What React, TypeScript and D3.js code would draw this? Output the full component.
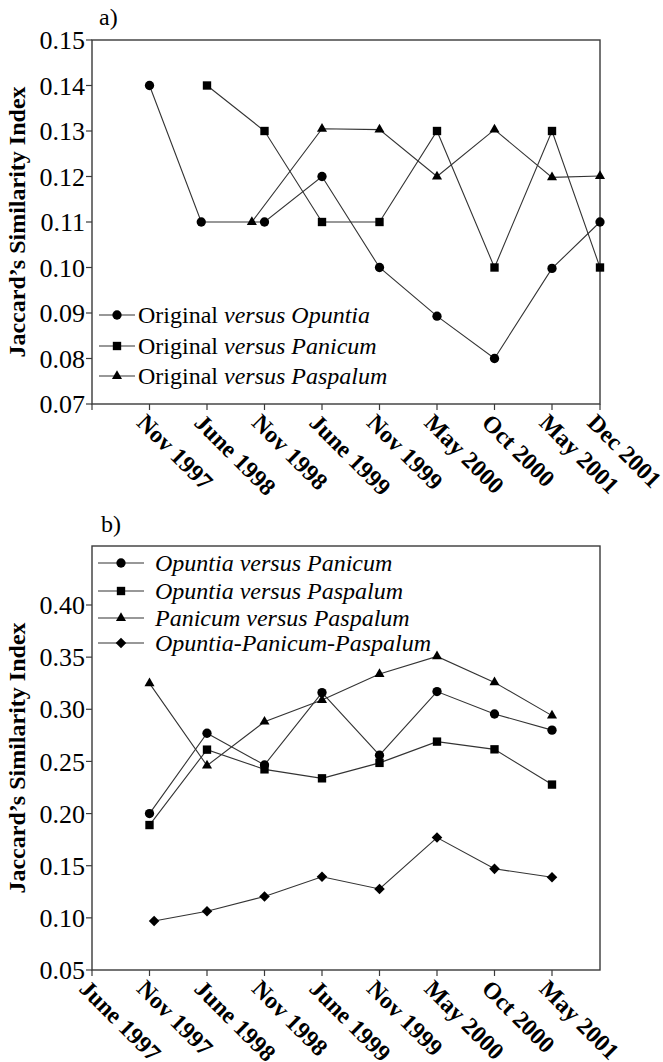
import React from "react";
import * as d3 from "d3";

// ---------- data ----------
const labelsA = ["Nov 1997", "June 1998", "Nov 1998", "June 1999", "Nov 1999", "May 2000", "Oct 2000", "May 2001", "Dec 2001"];
const labelSlotsA = [1, 2, 3, 4, 5, 6, 7, 8, 9];
const labelsB = ["June 1997", "Nov 1997", "June 1998", "Nov 1998", "June 1999", "Nov 1999", "May 2000", "Oct 2000", "May 2001"];
const labelSlotsB = [0, 1, 2, 3, 4, 5, 6, 7, 8];
const tickSlotsA = [0, 1, 2, 3, 4, 5, 6, 7, 8, 9];
const tickSlotsB = [0, 1, 2, 3, 4, 5, 6, 7, 8];
const yTicksA = [0.07, 0.08, 0.09, 0.10, 0.11, 0.12, 0.13, 0.14, 0.15];
const yTicksB = [0.05, 0.10, 0.15, 0.20, 0.25, 0.30, 0.35, 0.40];

// panel a (x = category slot)
const opuntiaAx = [1, 1.9, 3, 4, 5, 6, 7, 8, 9];
const opuntiaAy = [0.140, 0.110, 0.110, 0.120, 0.100, 0.0893, 0.080, 0.0998, 0.110];
const panicumAx = [2, 3, 4, 5, 6, 7, 8, 9];
const panicumAy = [0.140, 0.130, 0.110, 0.110, 0.130, 0.100, 0.130, 0.100];
const paspalumAx = [2.78, 4, 5, 6, 7, 8, 9];
const paspalumAy = [0.110, 0.1305, 0.1303, 0.120, 0.1303, 0.1198, 0.1201];

// panel b
const slotsB = [1, 2, 3, 4, 5, 6, 7, 8];
const opPanB = [0.200, 0.277, 0.2466, 0.316, 0.256, 0.317, 0.2955, 0.280];
const opPasB = [0.189, 0.2613, 0.2424, 0.2338, 0.2486, 0.269, 0.2616, 0.2278];
const panPasB = [0.3248, 0.246, 0.2881, 0.3089, 0.3338, 0.3507, 0.3258, 0.2939];
const tripleBx = [1.08, 2, 3, 4, 5, 6, 7, 8];
const tripleB = [0.097, 0.1064, 0.1205, 0.1394, 0.1277, 0.1770, 0.1470, 0.1390];

// ---------- layout ----------
const W = 663, H = 1062;
const LEFT = 92, RIGHT = 600;
const A = { top: 40, bottom: 404 };
const B = { top: 546, bottom: 970 };
const FONT = "Liberation Serif";
const LINE = "#333";
const AXIS = "#3a3a3a";

const xScale = d3.scaleLinear().domain([0, 8]).range([LEFT, 552]);
const xPos = (s: number) => Math.min(xScale(s), RIGHT);
const yA = d3.scaleLinear().domain([0.07, 0.15]).range([A.bottom, A.top]);
const yB = d3.scaleLinear().domain([0.05, 0.40]).range([B.bottom, 605]);

type Shape = "circle" | "square" | "triangle" | "diamond";
const symbolPath = (s: Shape) => {
  if (s === "circle") return d3.symbol(d3.symbolCircle, 68)()!;
  if (s === "square") return d3.symbol(d3.symbolSquare, 70)()!;
  if (s === "triangle") return d3.symbol(d3.symbolTriangle, 44)()!;
  return d3.symbol(d3.symbolSquare, 56)()!;
};
const Marker = ({ x, y, shape }: { x: number; y: number; shape: Shape }) => (
  <path
    d={symbolPath(shape)}
    transform={`translate(${x},${y})${shape === "diamond" ? " rotate(45)" : ""}`}
    fill="#000"
  />
);

function Series({ xs, ys, y, shape }: { xs: number[]; ys: number[]; y: d3.ScaleLinear<number, number>; shape: Shape }) {
  const pts: [number, number][] = xs.map((s, i) => [xPos(s), y(ys[i])]);
  const line = d3.line();
  return (
    <g>
      <path d={line(pts)!} fill="none" stroke={LINE} strokeWidth={1.1} />
      {pts.map((p, i) => (
        <Marker key={i} x={p[0]} y={p[1]} shape={shape} />
      ))}
    </g>
  );
}

function Frame({ top, bottom, y, yTicks, tickSlots, labels, labelSlots, fmt }: any) {
  return (
    <g>
      <rect x={LEFT} y={top} width={RIGHT - LEFT} height={bottom - top} fill="none" stroke={AXIS} strokeWidth={1.4} />
      {yTicks.map((t: number) => (
        <g key={t}>
          <line x1={LEFT - 6} x2={LEFT} y1={y(t)} y2={y(t)} stroke={AXIS} strokeWidth={1.2} />
          <text x={LEFT - 7} y={y(t)} dy="0.35em" textAnchor="end" fontSize={26} fontFamily={FONT} fill="#000">
            {fmt(t)}
          </text>
        </g>
      ))}
      {tickSlots.map((s: number) => (
        <line key={s} x1={xPos(s)} x2={xPos(s)} y1={bottom} y2={bottom + 6} stroke={AXIS} strokeWidth={1.2} />
      ))}
      {labels.map((l: string, i: number) => (
        <text
          key={l + i}
          transform={`translate(${xPos(labelSlots[i]) - 14},${bottom + 20}) rotate(45)`}
          fontSize={24}
          fontWeight="bold"
          fontFamily={FONT}
          fill="#000"
        >
          {l}
        </text>
      ))}
      <text
        transform={`translate(25,${(top + bottom) / 2}) rotate(-90)`}
        textAnchor="middle"
        fontSize={24}
        fontWeight="bold"
        fontFamily={FONT}
        fill="#000"
      >
        Jaccard’s Similarity Index
      </text>
    </g>
  );
}

const LegendRow = ({ y, x1, x2, tx, shape, children }: any) => (
  <g>
    <line x1={x1} x2={x2} y1={y} y2={y} stroke={LINE} strokeWidth={1.1} />
    <Marker x={(x1 + x2) / 2} y={y} shape={shape} />
    <text x={tx} y={y} dy="0.35em" fontSize={24} fontFamily={FONT} fill="#000">
      {children}
    </text>
  </g>
);

export default function App() {
  const fmt2 = d3.format(".2f");
  return (
    <svg width={W} height={H} style={{ position: "absolute", left: 0, top: 0, background: "#fff" }}>
      <rect width={W} height={H} fill="#fff" />
      {/* Panel a */}
      <text x={99} y={25} fontSize={24} fontFamily={FONT}>a)</text>
      <Frame top={A.top} bottom={A.bottom} y={yA} yTicks={yTicksA} tickSlots={tickSlotsA} labels={labelsA} labelSlots={labelSlotsA} fmt={fmt2} />
      <Series xs={opuntiaAx} ys={opuntiaAy} y={yA} shape="circle" />
      <Series xs={panicumAx} ys={panicumAy} y={yA} shape="square" />
      <Series xs={paspalumAx} ys={paspalumAy} y={yA} shape="triangle" />
      <LegendRow y={315} x1={99} x2={135} tx={138} shape="circle">
        Original <tspan fontStyle="italic">versus Opuntia</tspan>
      </LegendRow>
      <LegendRow y={346} x1={99} x2={135} tx={138} shape="square">
        Original <tspan fontStyle="italic">versus Panicum</tspan>
      </LegendRow>
      <LegendRow y={376} x1={99} x2={135} tx={138} shape="triangle">
        Original <tspan fontStyle="italic">versus Paspalum</tspan>
      </LegendRow>

      {/* Panel b */}
      <text x={101} y={532} fontSize={24} fontFamily={FONT}>b)</text>
      <Frame top={B.top} bottom={B.bottom} y={yB} yTicks={yTicksB} tickSlots={tickSlotsB} labels={labelsB} labelSlots={labelSlotsB} fmt={fmt2} />
      <Series xs={slotsB} ys={opPanB} y={yB} shape="circle" />
      <Series xs={slotsB} ys={opPasB} y={yB} shape="square" />
      <Series xs={slotsB} ys={panPasB} y={yB} shape="triangle" />
      <Series xs={tripleBx} ys={tripleB} y={yB} shape="diamond" />
      <LegendRow y={563} x1={98} x2={144} tx={155} shape="circle">
        <tspan fontStyle="italic">Opuntia versus Panicum</tspan>
      </LegendRow>
      <LegendRow y={591} x1={98} x2={144} tx={155} shape="square">
        <tspan fontStyle="italic">Opuntia versus Paspalum</tspan>
      </LegendRow>
      <LegendRow y={618} x1={98} x2={144} tx={155} shape="triangle">
        <tspan fontStyle="italic">Panicum versus Paspalum</tspan>
      </LegendRow>
      <LegendRow y={643} x1={98} x2={144} tx={155} shape="diamond">
        <tspan fontStyle="italic">Opuntia-Panicum-Paspalum</tspan>
      </LegendRow>
    </svg>
  );
}
